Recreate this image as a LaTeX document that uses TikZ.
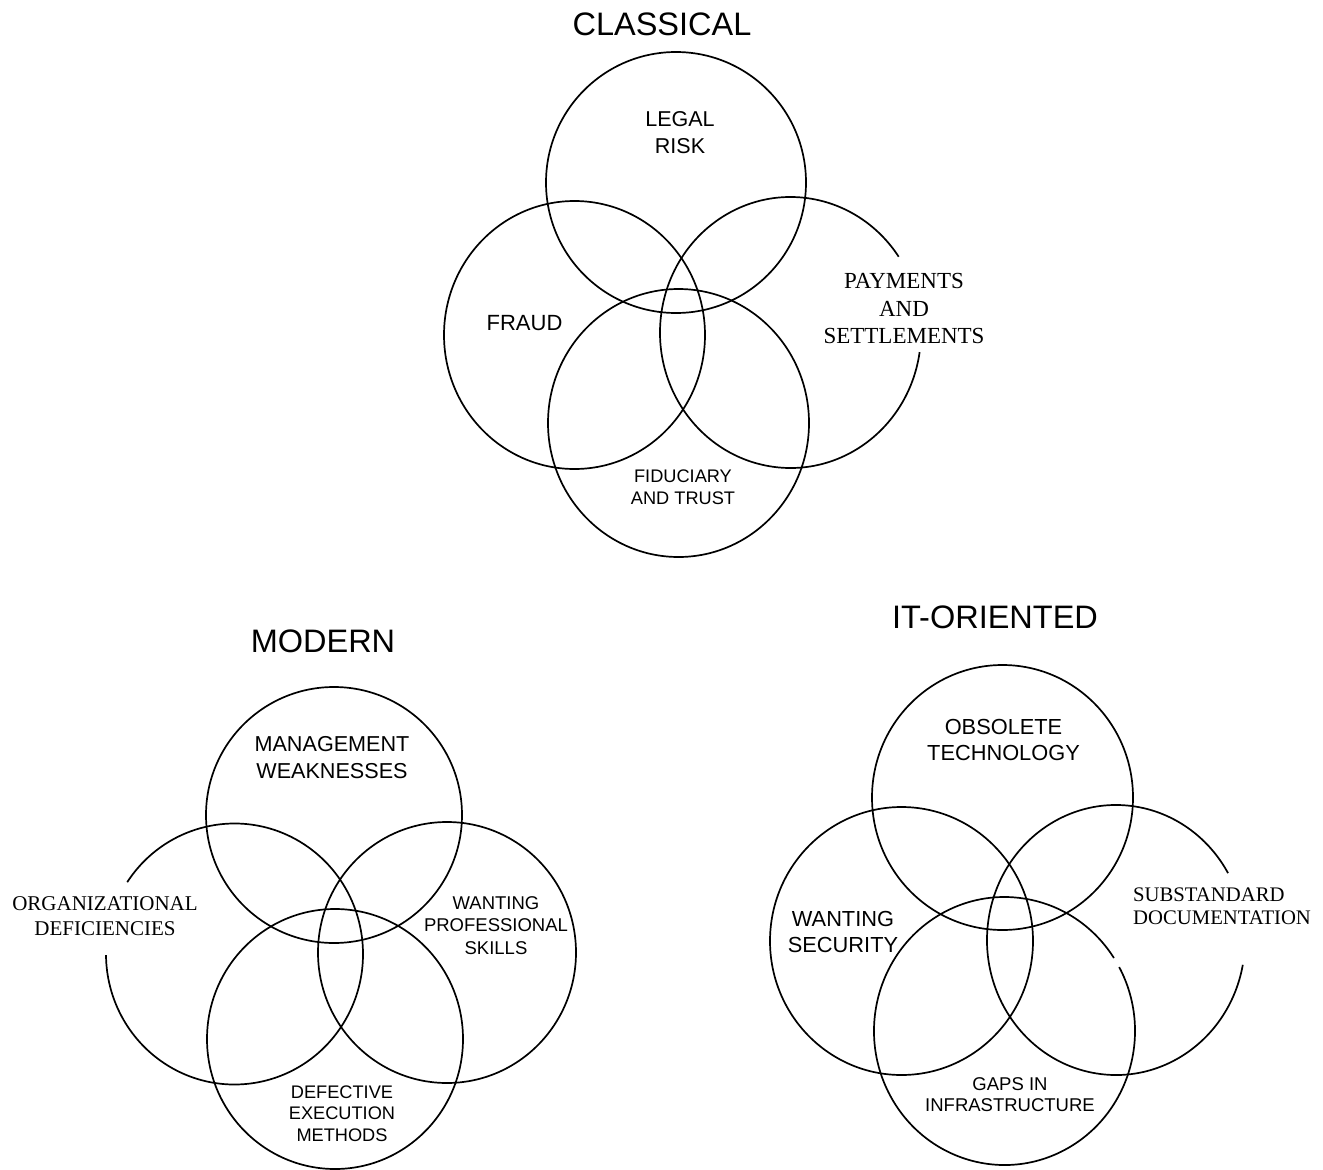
\documentclass[tikz,border=0pt]{standalone}
\usepackage{fontspec}
\setmainfont{Liberation Sans}
\newfontfamily\serifrm{Liberation Serif}
\tikzset{
  ring/.style={line width=1.7pt, black},
  lbl/.style={inner sep=0pt, align=center, text=black},
  ttl/.style={inner sep=0pt, font=\fontsize{32.5}{36}\selectfont},
}
\begin{document}
\begin{tikzpicture}[x=1pt,y=-1pt]
\useasboundingbox (0,0) rectangle (1323,1170);
\fill[white] (0,0) rectangle (1323,1170);

% ---------- CLASSICAL ----------
\node[ttl] (tclassical) at (662,24) {CLASSICAL};
\draw[ring] (676,182.5) ellipse [x radius=130, y radius=130.5];
\draw[ring] (574.5,335) ellipse [x radius=130.5, y radius=134];
\draw[ring] (790.5,332.5) ++(8.3:130.5 and 135.5) arc[start angle=8.3, end angle=326, x radius=130.5, y radius=135.5];
\draw[ring] (678.5,423) ellipse [x radius=130.5, y radius=134];

\node[lbl, font=\fontsize{21.5}{27}\selectfont] (legal) at (680,132.5) {LEGAL\\RISK};
\node[lbl, font=\fontsize{22}{27}\selectfont] (fraud) at (524.5,323) {FRAUD};
\node[lbl, font=\serifrm\fontsize{23}{27.5}\selectfont] (pay) at (904,308.5) {PAYMENTS\\AND\\SETTLEMENTS};
\node[lbl, font=\fontsize{18.2}{22.5}\selectfont] (fid) at (683,487) {FIDUCIARY\\AND TRUST};

% ---------- MODERN ----------
\node[ttl] (tmodern) at (323,641.5) {MODERN};
\draw[ring] (334,815) ellipse [x radius=128, y radius=128];
\draw[ring] (234.5,954) ++(213.4:128.5 and 130.5) arc[start angle=213.4, end angle=539.5, x radius=128.5, y radius=130.5];
\draw[ring] (447,952.5) ellipse [x radius=129, y radius=130.5];
\draw[ring] (335,1039) ellipse [x radius=128, y radius=130];

\node[lbl, font=\fontsize{21.6}{27}\selectfont] (mgmt) at (332,757.5) {MANAGEMENT\\WEAKNESSES};
\node[lbl, font=\serifrm\fontsize{21}{25}\selectfont] (org) at (105,916.5) {ORGANIZATIONAL\\DEFICIENCIES};
\node[lbl, font=\fontsize{18.5}{22.5}\selectfont] (prof) at (496,925.5) {WANTING\\PROFESSIONAL\\SKILLS};
\node[lbl, font=\fontsize{18.2}{21.7}\selectfont] (defect) at (342,1113.5) {DEFECTIVE\\EXECUTION\\METHODS};

% ---------- IT-ORIENTED ----------
\node[ttl] (tit) at (995,617) {IT-ORIENTED};
\draw[ring] (1002.5,797.5) ellipse [x radius=130.5, y radius=132.5];
\draw[ring] (901.5,941) ellipse [x radius=131.5, y radius=134];
\draw[ring] (1116,940) ++(10.6:129 and 135) arc[start angle=10.6, end angle=330.3, x radius=129, y radius=135];
\draw[ring] (1004.5,1031) ++(-28.5:130.5 and 134) arc[start angle=-28.5, end angle=327, x radius=130.5, y radius=134];

\node[lbl, font=\fontsize{21.8}{25.5}\selectfont] (obs) at (1003.5,740) {OBSOLETE\\TECHNOLOGY};
\node[lbl, font=\fontsize{21.8}{26}\selectfont] (sec) at (843,932) {WANTING\\SECURITY};
\node[lbl, align=left, anchor=west, font=\serifrm\fontsize{20.7}{22.5}\selectfont] (sub) at (1133,906) {SUBSTANDARD\\DOCUMENTATION};
\node[lbl, font=\fontsize{18.5}{21.5}\selectfont] (gaps) at (1010,1094.5) {GAPS IN\\INFRASTRUCTURE};
\end{tikzpicture}
\end{document}
